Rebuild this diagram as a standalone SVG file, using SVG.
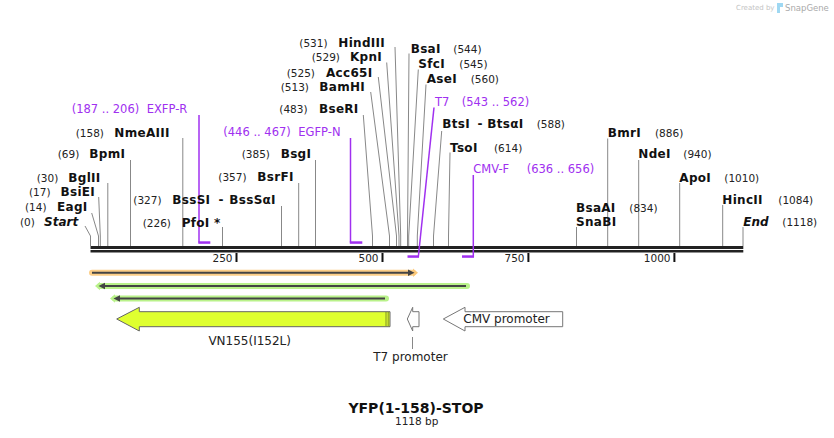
<svg xmlns="http://www.w3.org/2000/svg" width="834" height="438" viewBox="0 0 834 438">
<style>
text{font-family:"DejaVu Sans",Verdana,sans-serif}
.n{font-size:10.5px;fill:#222}
.e{font-size:12px;font-weight:bold;fill:#111;letter-spacing:0.3px}
.i{font-size:12px;font-weight:bold;font-style:italic;fill:#111}
.p{font-size:11.5px;fill:#a030f0}
.ld{fill:none;stroke:#888;stroke-width:1}
.pl{fill:none;stroke:#a030f0;stroke-width:1.5}
.pb{fill:#a030f0}
.tk{fill:#111}
.f{font-size:12px;fill:#222}
</style>
<rect width="834" height="438" fill="#fff"/>
<g id="watermark">
<text x="736" y="10" style="font-size:7px;fill:#c4c4c4">Created by</text>
<path d="M777 3 h6 v4 h-3 v6 h-3 z" fill="#9fd8f2"/>
<text x="785" y="11" style="font-size:8.5px;fill:#aaa">SnapGene</text>
</g>
<g id="backbone">
<rect x="90.5" y="246" width="652.8" height="3" fill="#222"/>
<rect x="90.5" y="250" width="652.8" height="2.5" fill="#222"/>
<rect class="tk" x="235.5" y="253" width="2" height="9"/>
<rect class="tk" x="381.5" y="253" width="2" height="9"/>
<rect class="tk" x="527.4" y="253" width="2" height="9"/>
<rect class="tk" x="673.4" y="253" width="2" height="9"/>
<text class="n" x="232.5" y="262" text-anchor="end">250</text>
<text class="n" x="378.5" y="262" text-anchor="end">500</text>
<text class="n" x="524.5" y="262" text-anchor="end">750</text>
<text class="n" x="670.5" y="262" text-anchor="end">1000</text>
</g>
<g id="connectors">
<polyline class="ld" points="85,226 90.5,236 90.5,246"/>
<polyline class="ld" points="91.7,213 98.5,236 98.5,246"/>
<polyline class="ld" points="98.7,197 100.3,236 100.3,246"/>
<polyline class="ld" points="107.8,183 107.8,246"/>
<polyline class="ld" points="130.5,160 130.5,246"/>
<polyline class="ld" points="182.8,138 182.8,246"/>
<polyline class="ld" points="222.5,227 222.5,246"/>
<polyline class="ld" points="281.5,206 281.5,246"/>
<polyline class="ld" points="298.7,183 298.7,246"/>
<polyline class="ld" points="315.5,160 315.5,246"/>
<polyline class="ld" points="363.3,115 372.5,236 372.5,246"/>
<polyline class="ld" points="370.7,92 389.5,236 389.5,246"/>
<polyline class="ld" points="378.3,77 396.5,236 396.5,246"/>
<polyline class="ld" points="386.7,62.5 399,236 399,246"/>
<polyline class="ld" points="395,47 400.7,236 400.7,246"/>
<polyline class="ld" points="409,53.5 407.5,236 407.5,246"/>
<polyline class="ld" points="418.3,69.5 408.7,236 408.7,246"/>
<polyline class="ld" points="426,84.5 417.3,236 417.3,246"/>
<polyline class="ld" points="441.7,131 433.5,236 433.5,246"/>
<polyline class="ld" points="450,152.5 448.5,236 448.5,246"/>
<polyline class="ld" points="576.5,227 576.5,246"/>
<polyline class="ld" points="607.7,138.5 607.7,246"/>
<polyline class="ld" points="638.7,160 638.7,246"/>
<polyline class="ld" points="679.7,183 679.7,246"/>
<polyline class="ld" points="722.7,205 722.7,246"/>
<polyline class="ld" points="743,227 743,246"/>
<polyline class="pl" points="199,115 199,242.5"/>
<rect class="pb" x="198.3" y="241.3" width="12" height="2.5"/>
<polyline class="pl" points="350.5,138 350.5,242.5"/>
<rect class="pb" x="349.8" y="241.3" width="12.5" height="2.5"/>
<polyline class="pl" points="434,107.5 418.3,257"/>
<rect class="pb" x="407.5" y="255.3" width="11.5" height="2.5"/>
<polyline class="pl" points="473.3,175 473.3,257"/>
<rect class="pb" x="462" y="255.3" width="12" height="2.5"/>
<polyline class="ld" points="412.5,337 412.5,349"/>
</g>
<g id="site-start"><text class="n" x="20" y="226">(0)</text><text class="i" x="44" y="226">Start</text></g>
<g id="site-eagi"><text class="n" x="25" y="211">(14)</text><text class="e" x="57" y="211">EagI</text></g>
<g id="site-bsiei"><text class="n" x="29" y="196">(17)</text><text class="e" x="60.5" y="196">BsiEI</text></g>
<g id="site-bglii"><text class="n" x="36.7" y="181.5">(30)</text><text class="e" x="68.3" y="181.5">BglII</text></g>
<g id="site-bpmi"><text class="n" x="57.7" y="157.5">(69)</text><text class="e" x="89.3" y="157.5">BpmI</text></g>
<g id="site-nmeaiii"><text class="n" x="75.7" y="136.5">(158)</text><text class="e" x="114.3" y="136.5">NmeAIII</text></g>
<g id="primer-exfp-r"><text class="p" x="71.7" y="113">(187 .. 206)</text><text class="p" x="146.7" y="113">EXFP-R</text></g>
<g id="site-bsssi"><text class="n" x="133.3" y="203.5">(327)</text><text class="e" x="172.3" y="203.5">BssSI</text><text class="e" x="218.5" y="203.5">-</text><text class="e" x="229.3" y="203.5">BssSαI</text></g>
<g id="site-pfoi"><text class="n" x="142.7" y="226.5">(226)</text><text class="e" x="181.7" y="226.5">PfoI *</text></g>
<g id="site-bsrfi"><text class="n" x="218.3" y="181">(357)</text><text class="e" x="257.3" y="181">BsrFI</text></g>
<g id="site-bsgi"><text class="n" x="241.7" y="158.3">(385)</text><text class="e" x="280.7" y="158.3">BsgI</text></g>
<g id="primer-egfp-n"><text class="p" x="223.3" y="136">(446 .. 467)</text><text class="p" x="298.3" y="136">EGFP-N</text></g>
<g id="site-bseri"><text class="n" x="279.3" y="113.3">(483)</text><text class="e" x="319" y="113.3">BseRI</text></g>
<g id="site-bamhi"><text class="n" x="280.7" y="91">(513)</text><text class="e" x="319.3" y="91">BamHI</text></g>
<g id="site-acc65i"><text class="n" x="286.7" y="76.6">(525)</text><text class="e" x="326" y="76.6">Acc65I</text></g>
<g id="site-kpni"><text class="n" x="311.7" y="61">(529)</text><text class="e" x="350" y="61">KpnI</text></g>
<g id="site-hindiii"><text class="n" x="299.3" y="46.6">(531)</text><text class="e" x="338.3" y="46.6">HindIII</text></g>
<g id="site-bsai"><text class="e" x="410.7" y="52.6">BsaI</text><text class="n" x="453.3" y="52.6">(544)</text></g>
<g id="site-sfci"><text class="e" x="418.3" y="67.6">SfcI</text><text class="n" x="459.3" y="67.6">(545)</text></g>
<g id="site-asei"><text class="e" x="426.7" y="83.3">AseI</text><text class="n" x="470.7" y="83.3">(560)</text></g>
<g id="primer-t7"><text class="p" x="435" y="106">T7</text><text class="p" x="461.7" y="106">(543 .. 562)</text></g>
<g id="site-btsi"><text class="e" x="442.3" y="128.3">BtsI</text><text class="e" x="477.5" y="128.3">-</text><text class="e" x="487.3" y="128.3">BtsαI</text><text class="n" x="536.7" y="128.3">(588)</text></g>
<g id="site-tsoi"><text class="e" x="450" y="151.6">TsoI</text><text class="n" x="494" y="151.6">(614)</text></g>
<g id="primer-cmv-f"><text class="p" x="473.3" y="172.6">CMV-F</text><text class="p" x="526.7" y="172.6">(636 .. 656)</text></g>
<g id="site-bsaai"><text class="e" x="576" y="211.6">BsaAI</text><text class="n" x="629.3" y="211.6">(834)</text><text class="e" x="576" y="226.3">SnaBI</text></g>
<g id="site-bmri"><text class="e" x="607.7" y="136.6">BmrI</text><text class="n" x="655" y="136.6">(886)</text></g>
<g id="site-ndei"><text class="e" x="638.3" y="158.3">NdeI</text><text class="n" x="683.3" y="158.3">(940)</text></g>
<g id="site-apoi"><text class="e" x="679.3" y="181.6">ApoI</text><text class="n" x="724.3" y="181.6">(1010)</text></g>
<g id="site-hincii"><text class="e" x="722.3" y="203.6">HincII</text><text class="n" x="778.3" y="203.6">(1084)</text></g>
<g id="site-end"><text class="i" x="743.3" y="226">End</text><text class="n" x="782.3" y="226">(1118)</text></g>
<g id="feature-orange">
<path d="M92 272.7 H413" stroke="#fcc97a" stroke-width="6" stroke-opacity="0.9" fill="none" stroke-linecap="round"/>
<path d="M413 268.5 L418 272.7 L413 277 Z" fill="#fcc97a"/>
<path d="M92 272.7 H410" stroke="#444" stroke-width="2" fill="none"/>
<path d="M408 269.5 L414.5 272.7 L408 276 Z" fill="#444"/>
</g>
<g id="feature-green1">
<path d="M100 286 H467" stroke="#b9f28a" stroke-width="6" fill="none" stroke-linecap="round"/>
<path d="M100 281.8 L95 286 L100 290.2 Z" fill="#b9f28a"/>
<path d="M103 286 H466" stroke="#444" stroke-width="2" fill="none"/>
<path d="M105 282.8 L98.5 286 L105 289.2 Z" fill="#444"/>
</g>
<g id="feature-green2">
<path d="M115 298.5 H386" stroke="#b9f28a" stroke-width="6" fill="none" stroke-linecap="round"/>
<path d="M115 294.3 L110 298.5 L115 302.7 Z" fill="#b9f28a"/>
<path d="M118 298.5 H385" stroke="#444" stroke-width="2" fill="none"/>
<path d="M120 295.3 L113.5 298.5 L120 301.7 Z" fill="#444"/>
</g>
<g id="feature-vn155">
<polygon points="116.7,319 139.3,307.3 139.3,311.7 390,311.7 390,326.7 139.3,326.7 139.3,331" fill="#dfff30" stroke="#666" stroke-width="1"/>
<line x1="386" y1="312.5" x2="386" y2="326" stroke="#222" stroke-width="1" stroke-dasharray="1 1"/>
<line x1="388.2" y1="312.5" x2="388.2" y2="326" stroke="#222" stroke-width="1" stroke-dasharray="1 1"/>
<text class="f" x="249.7" y="345" text-anchor="middle">VN155(I152L)</text>
</g>
<g id="feature-t7-promoter">
<polygon points="419,311.7 412.7,311.7 412.7,307.3 407.3,319 412.7,331 412.7,326.7 419,326.7" fill="#fff" stroke="#777" stroke-width="1"/>
<text class="f" x="410.5" y="361" text-anchor="middle">T7 promoter</text>
</g>
<g id="feature-cmv-promoter">
<polygon points="443.3,319 465,307.3 465,311.7 562.7,311.7 562.7,326.7 465,326.7 465,331" fill="#fff" stroke="#777" stroke-width="1"/>
<text class="f" x="463.3" y="323">CMV promoter</text>
</g>
<g id="title">
<text x="416" y="412.5" text-anchor="middle" style="font-size:14px;font-weight:bold;fill:#111">YFP(1-158)-STOP</text>
<text x="416.7" y="424.5" text-anchor="middle" style="font-size:10.5px;fill:#222">1118 bp</text>
</g>
</svg>
